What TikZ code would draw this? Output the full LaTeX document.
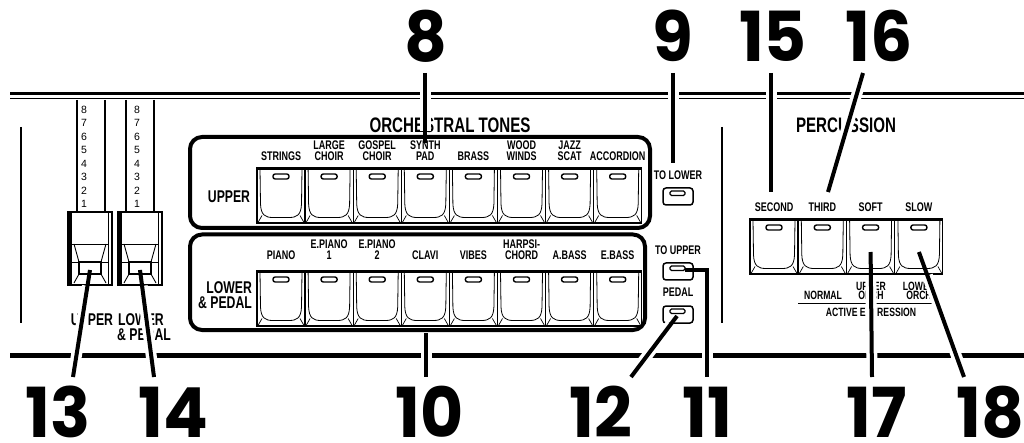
\documentclass[tikz,border=0pt]{standalone}
\usepackage{fontspec}
\newfontfamily\lab[FakeStretch=0.72]{Liberation Sans}
\newfontfamily\plain{Liberation Sans}
\newfontfamily\numf[FakeStretch=0.96]{Poppins}
\newcommand\keybutton[3]{%
 \begin{scope}[shift={({#1},{#2})}]
  \draw[line width=1.1, fill=white] (0,0) rectangle (48,55);
  \draw[line width=2] (0.5,1) -- (47.5,1);
  \draw[line width=0.8] (3,1) -- (3.5,36) .. controls (4,47) and (8,49.5) .. (16,49.5) -- (32,49.5) .. controls (40,49.5) and (44,47) .. (44.5,36) -- (45,1);
  \draw[line width=0.7] (1,54.5) -- (5,47.5) (47,54.5) -- (43,47.5);
  \draw[line width=1.4, fill=white, rounded corners=2.2] (16,6) rectangle (32,11);
  \coordinate (#3) at (24,33);
 \end{scope}}
\newcommand\smallbutton[3]{%
 \begin{scope}[shift={({#1},{#2})}]
  \draw[line width=1.5, rounded corners=3] (0,0) rectangle (30,17);
  \draw[line width=1.3, rounded corners=1.5] (7,3) rectangle (22,7.5);
  \coordinate (#3) at (22,7);
 \end{scope}}
\newcommand\drawhandle[2]{%
 \begin{scope}[shift={({#1},212)}]
  \draw[line width=1.2, fill=white] (0,0) rectangle (44,73);
  \fill (0,0) rectangle (4,73);
  \draw[line width=0.9] (40,0) -- (40,73);
  \draw[line width=0.9] (4,32) -- (40,32);
  \draw[line width=0.9] (6,32) -- (11,50) (38,32) -- (33,50);
  \draw[line width=0.9] (4,50) -- (40,50);
  \draw[line width=1.2] (11,50) rectangle (33,62);
  \draw[line width=0.9] (11,62) -- (6,71) (33,62) -- (38,71);
  \coordinate (#2) at (22,58);
 \end{scope}}
\begin{document}
\begin{tikzpicture}[x=1pt,y=-1pt,
  tag/.style={font=\numf\bfseries\fontsize{69}{69}\selectfont, inner sep=0, anchor=base},
  lbl/.style={font=\lab\bfseries\fontsize{12.5}{11.5}\selectfont, align=center, inner sep=0, anchor=south},
  big/.style={font=\lab\bfseries\fontsize{17}{15}\selectfont, inner sep=0},
  ttl/.style={font=\lab\bfseries\fontsize{21}{21}\selectfont, inner sep=0},
  tiny/.style={font=\lab\bfseries\fontsize{12}{9.5}\selectfont, align=center, inner sep=0},
  dbn/.style={font=\plain\fontsize{10.5}{10.5}\selectfont, inner sep=0},
  leader/.style={line width=4},
  halo/.style={line width=11, white},
  rule/.style={line width=1.5}]
\useasboundingbox (0,0) rectangle (1024,443);
% frame lines
\draw[line width=3.5] (10,93.5) -- (1024,93.5);
\draw[line width=1.5] (10,98.5) -- (1024,98.5);
\draw[line width=5] (10,355.5) -- (1024,355.5);
\draw[rule] (21,127) -- (21,323);
\draw[rule] (722,127) -- (722,323);
% drawbars
\foreach \xa/\xb/\xn/\nm in {77/105/84/h1, 126/154/137/h2} {
  \draw[rule] (\xa,100) -- (\xa,212);
  \draw[rule] (\xb,100) -- (\xb,212);
  \foreach \d [count=\k from 0] in {8,7,6,5,4,3,2,1}
    \node[dbn] at (\xn,{109.5+\k*13.5}) {\d};
}
\drawhandle{68}{hu}
\drawhandle{118}{hl}
\node[big, anchor=base] (dbu) at (92,325) {UPPER};
\node[big, anchor=base] (dbl) at (141,325) {LOWER};
\node[big, anchor=base] (dbp) at (144,340) {\&~PEDAL};
% orchestral tones
\node[ttl] (ot) at (450,125.5) {ORCHESTRAL TONES};
\draw[line width=4, rounded corners=12] (190,137) rectangle (650,228);
\draw[line width=4, rounded corners=12] (190,234.5) rectangle (645,330);
\node[big, align=center] (upl) at (229,197) {UPPER};
\node[big, align=right] (lpl) at (225,295) {LOWER\\\&~PEDAL};
\foreach \t [count=\i from 0] in {STRINGS,{LARGE\\CHOIR},{GOSPEL\\CHOIR},{SYNTH\\PAD},BRASS,{WOOD\\WINDS},{JAZZ\\SCAT},ACCORDION} {
  \node[lbl] (ul\i) at ({281+\i*48.1},161) {\t};
  \keybutton{257+\i*48.1}{168}{ub\i}
}
\foreach \t [count=\i from 0] in {PIANO,{E.PIANO\\1},{E.PIANO\\2},CLAVI,VIBES,{HARPSI-\\CHORD},A.BASS,E.BASS} {
  \node[lbl] (ll\i) at ({281+\i*48.1},260) {\t};
  \keybutton{257+\i*48.1}{271}{lb\i}
}
% small buttons
\node[lbl] (tlo) at (678,180) {TO LOWER};
\smallbutton{663}{188}{btl}
\node[lbl] (tup) at (678,255) {TO UPPER};
\smallbutton{663}{263}{btu}
\node[lbl] (ped) at (678,297) {PEDAL};
\smallbutton{663}{306}{bpd}
\coordinate (bpd12) at (677,316);
% percussion
\node[ttl] (perc) at (846,125.5) {PERCUSSION};
\foreach \t [count=\i from 0] in {SECOND,THIRD,SOFT,SLOW} {
  \node[lbl] (pl\i) at ({774+\i*48.3},212) {\t};
  \keybutton{750+\i*48.3}{219}{pb\i}
}
\node[tiny, anchor=south] (nrm) at (823,300) {NORMAL};
\node[tiny, anchor=south] (uor) at (871,300) {UPPER\\ORCH};
\node[tiny, anchor=south] (lor) at (919,300) {LOWER\\ORCH};
\draw[line width=1] (798,303) -- (933,303);
\node[tiny] (aex) at (871,312) {ACTIVE EXPRESSION};
% numbers
\node[tag] (n8) at (426,62) {8};
\node[tag] (n9) at (673,62) {9};
\node[tag] (n15) at (773,62) {15};
\node[tag] (n16) at (879,62) {16};
\node[tag] (n13) at (58,437) {13};
\node[tag] (n14) at (173,437) {14};
\node[tag] (n10) at (430,437) {10};
\node[tag] (n12) at (601,437) {12};
\node[tag] (n11) at (707,437) {11};
\node[tag] (n17) at (877,437) {17};
\node[tag] (n18) at (990,437) {18};
% leader end points
\coordinate (e8) at (425,73);  \coordinate (f8) at (425,143);
\coordinate (e9) at (673,73);  \coordinate (f9) at (673,163);
\coordinate (e15) at (771,73); \coordinate (f15) at (771,192);
\coordinate (e16) at (863,73); \coordinate (f16) at (828,192);
\coordinate (e13) at (73,377); \coordinate (e14) at (154,377);
\coordinate (e10) at (426,377); \coordinate (f10) at (426,333);
\coordinate (e12) at (631,377);
\coordinate (k11) at (707,270); \coordinate (e11) at (707,377);
\coordinate (e17) at (872,377); \coordinate (e18) at (964,377);
% halos
\draw[halo, shorten >=12] (e8) -- (f8);
\draw[halo] (e9) -- (f9);
\draw[halo] (e15) -- (f15);
\draw[halo] (e16) -- (f16);
\draw[halo, shorten <=16] (hu) -- (e13);
\draw[halo, shorten <=16] (hl) -- (e14);
\draw[halo, shorten <=3] (f10) -- (e10);
\draw[halo, shorten <=10] (bpd12) -- (e12);
\draw[halo, shorten <=3] (k11) -- (e11);
\draw[halo, shorten <=25] (pb2) -- (e17);
\draw[halo, shorten <=25] (pb3) -- (e18);
% leaders
\draw[leader] (e8) -- (f8);
\draw[leader] (e9) -- (f9);
\draw[leader] (e15) -- (f15);
\draw[leader] (e16) -- (f16);
\draw[leader] (hu) -- (e13);
\draw[leader] (hl) -- (e14);
\draw[leader] (f10) -- (e10);
\draw[leader] (bpd12) -- (e12);
\draw[leader] (btu) -- (k11) -- (e11);
\draw[leader] (pb2) -- (e17);
\draw[leader] (pb3) -- (e18);
\end{tikzpicture}
\end{document}
